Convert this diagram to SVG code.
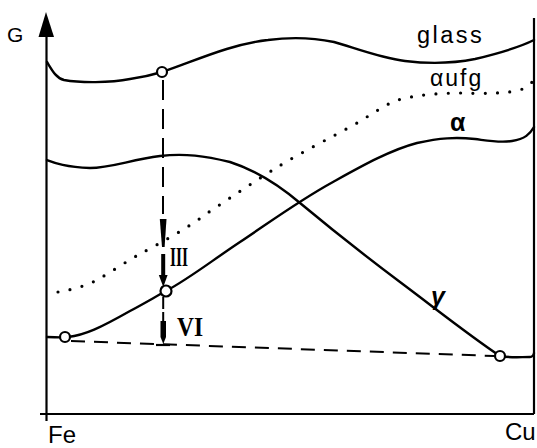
<svg xmlns="http://www.w3.org/2000/svg" width="537" height="448" viewBox="0 0 537 448">
<style>
.ax{stroke:#000;stroke-width:2.2;fill:none}
.cv{stroke:#000;stroke-width:2.4;fill:none;stroke-linecap:round;stroke-linejoin:round}
.dot{stroke:#000;stroke-width:3.2;fill:none;stroke-linecap:round;stroke-dasharray:0 12.3}
.dash{stroke:#000;stroke-width:2;fill:none;stroke-dasharray:14 9}
.vd{stroke:#000;stroke-width:2;fill:none;stroke-dasharray:20 9}
.pt{fill:#fff;stroke:#000;stroke-width:2.2}
.lbl{font-family:"Liberation Sans",Arial,sans-serif;fill:#000}
.rom{font-family:"Liberation Serif","Times New Roman",serif;font-weight:bold;fill:#000}
</style>
<rect width="537" height="448" fill="#fff"/>
<g id="axes">
<line class="ax" x1="46.5" y1="30" x2="46.5" y2="421"/>
<polygon points="46,12 38.5,37 54,37" fill="#000"/>
<line class="ax" x1="40" y1="414" x2="534" y2="414"/>
<line class="ax" x1="534" y1="18" x2="534" y2="414"/>
<text class="lbl" x="7" y="42" font-size="21">G</text>
<text class="lbl" x="48" y="443" font-size="24">Fe</text>
<text class="lbl" x="505" y="440" font-size="24">Cu</text>
</g>
<g id="glass">
<path class="cv" d="M47,62 C52,70 56,78 64,80 C80,83 110,83 130,79 C145,77 152,75 162,72 C190,63 230,44 268,40 C290,37 310,37 334,42 C355,48 380,58 405,61 C430,64 455,63 475,59 C500,53 520,47 534,40"/>
<circle class="pt" cx="162" cy="72" r="5"/>
<text class="lbl" x="417" y="43" font-size="23.5" letter-spacing="2.5">glass</text>
</g>
<g id="aufg">
<path class="dot" d="M58,292 C70,290 83,287 95,281 C110,273 125,262 140,254 C160,243 185,230 206,214 C230,198 255,181 276,168 C300,153 330,138 350,127 C370,116 385,104 398,100 C415,95 440,93 462,93 C485,94 510,93 520,90 C528,87 531,84 532,82"/>
<text class="lbl" x="430" y="86" font-size="23" letter-spacing="2">αufg</text>
</g>
<g id="gamma">
<path class="cv" d="M47,160 C55,163 65,167 90,168 C110,168 130,160 160,156 C185,153 205,156 230,162 C255,170 280,186 300,203 C330,228 360,252 400,282 C440,312 470,336 500,356 C510,358 520,357 530,357 C532,357 534,355 534,353"/>
<circle class="pt" cx="500" cy="356" r="5"/>
<text class="lbl" x="431" y="305" font-size="25" font-style="italic" font-weight="bold">γ</text>
</g>
<g id="alpha">
<path class="cv" d="M47,337 C55,337 60,338 68,337 C85,335 100,328 130,311 C145,303 155,297 166,291 C190,278 210,262 240,242 C270,222 300,200 333,182 C360,167 390,150 417,143 C440,138 455,137 475,139 C490,141 500,143 512,141 C525,139 530,134 534,127"/>
<circle class="pt" cx="65" cy="337" r="5"/>
<circle class="pt" cx="166" cy="291" r="5.5"/>
<text class="lbl" x="450" y="131" font-size="25" font-weight="bold">α</text>
</g>
<g id="connectors">
<line class="vd" x1="163" y1="80" x2="163" y2="214"/>
<polygon points="159.8,219 166.5,219 164.6,247 162,247" fill="#000"/>
<line x1="163.2" y1="254" x2="163.2" y2="278" stroke="#000" stroke-width="4"/>
<polygon points="158.8,275 167.6,275 163.3,287" fill="#000"/>
<line x1="163.2" y1="297" x2="163.2" y2="309" stroke="#000" stroke-width="2"/>
<line x1="163.2" y1="312" x2="163.2" y2="323" stroke="#000" stroke-width="2"/>
<polygon points="160.5,321 166,321 166,337 163.3,344 160.5,337" fill="#000"/>
<line x1="156" y1="345" x2="170" y2="345" stroke="#000" stroke-width="2.2"/>
<line class="dash" x1="71" y1="341" x2="494" y2="356"/>
<text class="rom" x="170" y="266" font-size="27" textLength="18" lengthAdjust="spacingAndGlyphs">III</text>
<text class="rom" x="177" y="336" font-size="27" textLength="26" lengthAdjust="spacingAndGlyphs">VI</text>
</g>
</svg>
